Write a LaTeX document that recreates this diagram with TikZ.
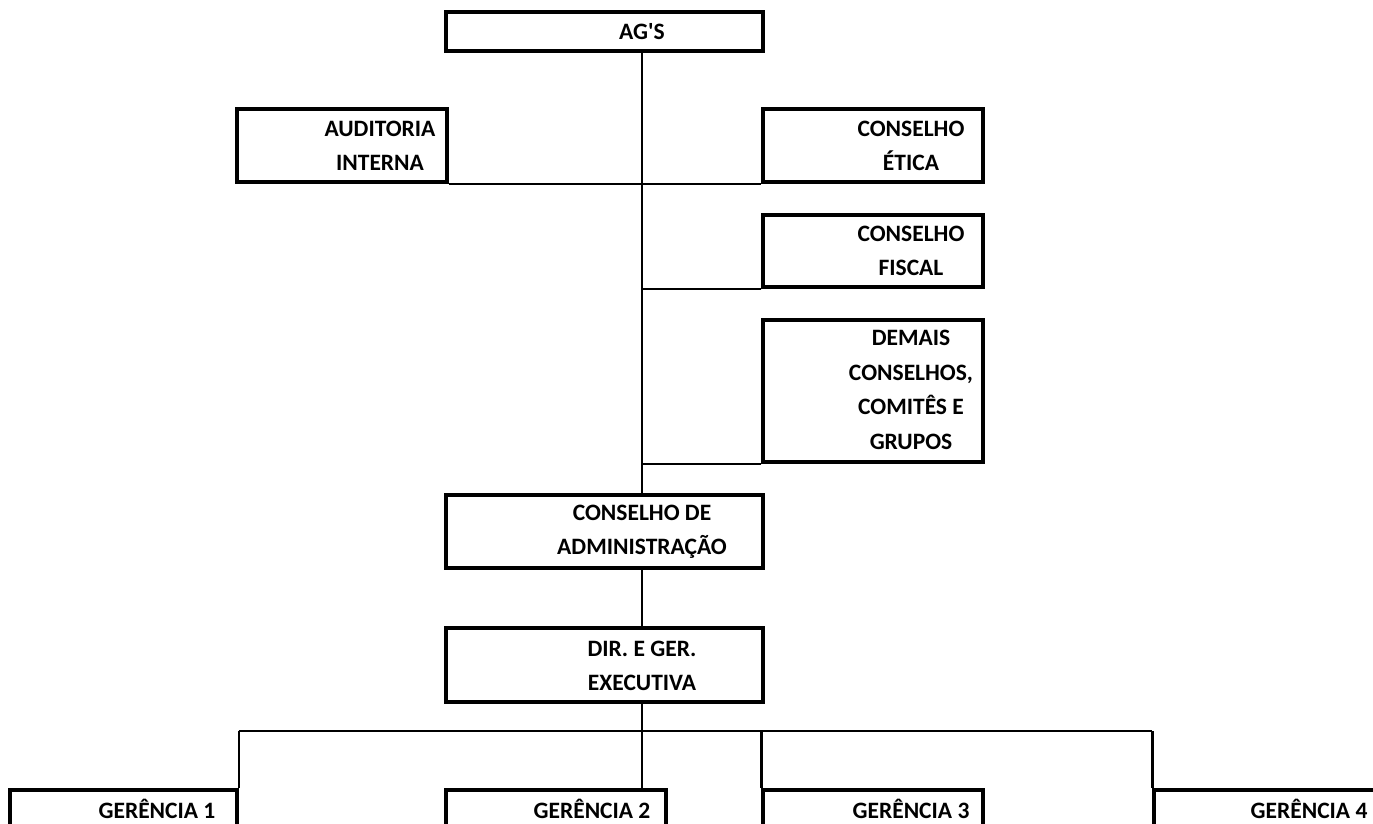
\documentclass[tikz,border=0pt]{standalone}
\usepackage{fontspec}
\newfontfamily\calfont{Carlito}
\usetikzlibrary{fit}
\tikzset{
  box/.style={draw=black, line width=3.2pt, inner sep=0pt, fill=none},
  lbl/.style={font=\calfont\bfseries\fontsize{23.5}{34.5}\selectfont, align=center, inner sep=0pt},
  conn/.style={draw=black, line width=2.2pt},
}
\begin{document}
\begin{tikzpicture}[x=1pt, y=-1pt]
\useasboundingbox (0,0) rectangle (1373,823);
\clip (0,0) rectangle (1373,823);
\coordinate (spine) at (642,0);
\coordinate (bus) at (642,731);
% boxes
\node[box, fit={(446,12) (763,51)}] (ags) {};
\node[box, fit={(237,109) (447,182)}] (aud) {};
\node[box, fit={(763,109) (983,182)}] (etica) {};
\node[box, fit={(763,215) (983,287)}] (fiscal) {};
\node[box, fit={(763,320) (983,462)}] (demais) {};
\node[box, fit={(446,495) (763,568)}] (ca) {};
\node[box, fit={(446,628) (763,702)}] (dir) {};
\node[box, fit={(10,790) (237,860)}] (g1) {};
\node[box, fit={(446,790) (666,860)}] (g2) {};
\node[box, fit={(763,790) (983,860)}] (g3) {};
\node[box, fit={(1154,790) (1420,860)}] (g4) {};
% texts
\node[lbl] (agst) at (642,32) {AG'S};
\node[lbl] (audt) at (380,146) {AUDITORIA\\INTERNA};
\node[lbl] (eticat) at (911,146) {CONSELHO\\ÉTICA};
\node[lbl] (fiscalt) at (911,251) {CONSELHO\\FISCAL};
\node[lbl] (demaist) at (911,390) {DEMAIS\\CONSELHOS,\\COMITÊS E\\GRUPOS};
\node[lbl] (cat) at (642,532) {CONSELHO DE\\ADMINISTRAÇÃO};
\node[lbl] (dirt) at (642,666) {DIR. E GER.\\EXECUTIVA};
\node[lbl] (g1t) at (157,809) {GERÊNCIA 1};
\node[lbl] (g2t) at (592,809) {GERÊNCIA 2};
\node[lbl] (g3t) at (911,809) {GERÊNCIA 3};
\node[lbl] (g4t) at (1309,809) {GERÊNCIA 4};
% connectors
\draw[conn] (ags.south -| spine) -- (ca.north -| spine);
\draw[conn] (aud.south east) -- (etica.south west);
\draw[conn] (fiscal.south west) -- (fiscal.south west -| spine);
\draw[conn] (demais.south west) -- (demais.south west -| spine);
\draw[conn] (ca.south -| spine) -- (dir.north -| spine);
\draw[conn] (dir.south -| spine) -- (g2.north -| spine);
\draw[conn] (g1.north east |- bus) -- (g4.north west |- bus);
\draw[conn] (g1.north east |- bus) -- (g1.north east);
\draw[conn] (g3.north west |- bus) -- (g3.north west);
\draw[conn] (g4.north west |- bus) -- (g4.north west);
\end{tikzpicture}
\end{document}
